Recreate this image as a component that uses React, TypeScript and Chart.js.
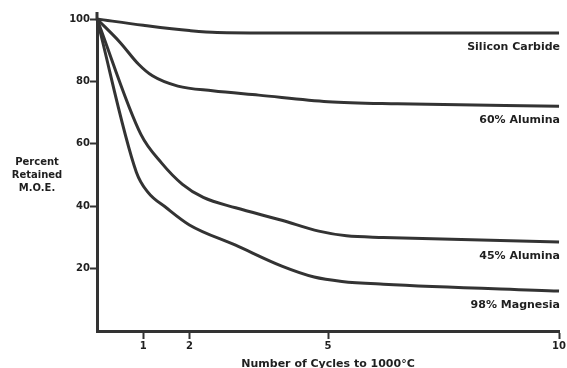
import React, { useEffect, useRef } from "react";
import { Chart, registerables } from "chart.js";

Chart.register(...registerables);

const seriesNames = ["Silicon Carbide", "60% Alumina", "45% Alumina", "98% Magnesia"];

const xSiC = [0, 1, 2, 2.6, 5, 10];
const ySiC = [100, 98, 96.3, 95.7, 95.5, 95.5];

const x60 = [0, 0.5, 0.9, 1.2, 1.75, 2.5, 3.5, 5, 6.5, 10];
const y60 = [100, 92.5, 85.5, 81.8, 78.5, 77, 75.6, 73.5, 72.8, 72];

const x45 = [0, 0.95, 1.4, 1.85, 2.3, 3, 4, 4.8, 5.4, 6.2, 10];
const y45 = [100, 63, 53.8, 47, 42.8, 39.5, 35.5, 32, 30.5, 30, 28.5];

const xMg = [0, 0.85, 1.1, 1.5, 2, 3, 4, 4.7, 5.3, 6.2, 10];
const yMg = [100, 51, 44.5, 39.5, 34, 27.5, 20.8, 17.3, 15.9, 15, 12.8];

const xTicks = [1, 2, 5, 10];
const yTicks = [20, 40, 60, 80, 100];

const xTitle = "Number of Cycles to 1000\u00B0C";
const yTitleLines = ["Percent", "Retained", "M.O.E."];

const INK = "#1f1f1f";
const LINE = "#333333";
const LABEL_FONT = "bold 11px 'DejaVu Sans'";
const YTITLE_FONT = "bold 10px 'DejaVu Sans'";

const toPts = (xs: number[], ys: number[]) => xs.map((x, i) => ({ x, y: ys[i] }));

const textPlugin = {
  id: "textPlugin",
  afterDraw(chart: any) {
    const { ctx, scales, chartArea } = chart;
    const xs = scales.x;
    const ys = scales.y;
    ctx.save();
    ctx.fillStyle = INK;
    ctx.font = LABEL_FONT;
    ctx.textAlign = "right";
    ctx.textBaseline = "middle";
    chart.data.datasets.forEach((ds: any) => {
      const last = ds.data[ds.data.length - 1];
      const px = xs.getPixelForValue(last.x) + 1;
      const py = ys.getPixelForValue(last.y) + 14;
      ctx.fillText(ds.label, px, py);
    });
    ctx.textAlign = "center";
    ctx.fillText(xTitle, (chartArea.left + chartArea.right) / 2, 364);
    ctx.font = YTITLE_FONT;
    yTitleLines.forEach((t, i) => {
      ctx.fillText(t, 37, 162 + i * 13);
    });
    ctx.strokeStyle = LINE;
    ctx.lineWidth = 3;
    ctx.beginPath();
    ctx.moveTo(chartArea.left, chartArea.top);
    ctx.lineTo(chartArea.left, chartArea.top - 7);
    ctx.stroke();
    ctx.restore();
  },
};

export default function App() {
  const ref = useRef<HTMLCanvasElement>(null);
  useEffect(() => {
    document.body.style.margin = "0";
    const mk = (label: string, xs: number[], ys: number[]) => ({
      label,
      data: toPts(xs, ys),
      borderColor: LINE,
      borderWidth: 3,
      pointRadius: 0,
      cubicInterpolationMode: "monotone" as const,
      fill: false,
      clip: 6,
    });
    const tickFont = { family: "'DejaVu Sans'", size: 10, weight: "bold" as const };
    const chart = new Chart(ref.current!, {
      type: "line",
      data: {
        datasets: [
          mk(seriesNames[0], xSiC, ySiC),
          mk(seriesNames[1], x60, y60),
          mk(seriesNames[2], x45, y45),
          mk(seriesNames[3], xMg, yMg),
        ],
      },
      plugins: [textPlugin],
      options: {
        animation: false,
        responsive: true,
        maintainAspectRatio: false,
        layout: { padding: { left: 0, top: 19, right: 4, bottom: 0 } },
        plugins: { legend: { display: false }, tooltip: { enabled: false } },
        scales: {
          x: {
            type: "linear",
            min: 0,
            max: 10,
            afterBuildTicks: (s: any) => {
              s.ticks = xTicks.map((v) => ({ value: v }));
            },
            afterFit: (s: any) => {
              s.height = 37;
            },
            grid: {
              drawOnChartArea: false,
              drawTicks: true,
              tickLength: 8,
              tickWidth: 2,
              tickColor: LINE,
            },
            border: { display: true, color: LINE, width: 3 },
            ticks: {
              color: INK,
              font: tickFont,
              padding: 1,
              maxRotation: 0,
              autoSkip: false,
            },
          },
          y: {
            type: "linear",
            min: 0,
            max: 100,
            afterBuildTicks: (s: any) => {
              s.ticks = yTicks.map((v) => ({ value: v }));
            },
            afterFit: (s: any) => {
              s.width = 97;
            },
            grid: {
              drawOnChartArea: false,
              drawTicks: true,
              tickLength: 7,
              tickWidth: 2,
              tickColor: LINE,
            },
            border: { display: true, color: LINE, width: 3 },
            ticks: {
              color: INK,
              font: tickFont,
              padding: 0,
              autoSkip: false,
            },
          },
        },
      },
    });
    return () => chart.destroy();
  }, []);
  return (
    <div style={{ position: "fixed", left: 0, top: 0, width: 567, height: 368, background: "#fff" }}>
      <canvas ref={ref} />
    </div>
  );
}
